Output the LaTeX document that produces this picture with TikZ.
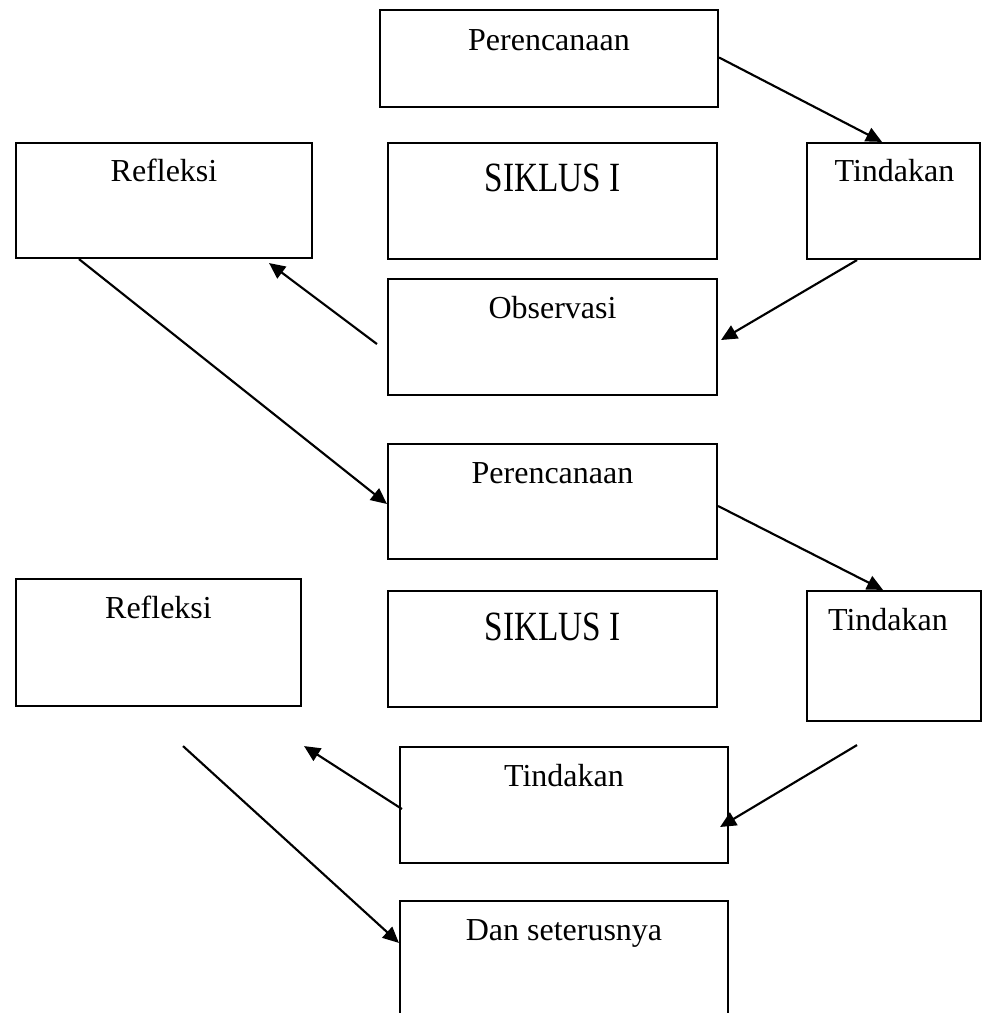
\documentclass[tikz,border=0pt]{standalone}
\usepackage{fontspec}
\setmainfont{Liberation Serif}
\usetikzlibrary{fit,calc,arrows.meta}
\tikzset{
  box/.style={draw, line width=1.6pt, rectangle, inner sep=0pt},
  lbl/.style={anchor=base, inner sep=0pt, font=\fontsize{24}{28}\selectfont},
  arr/.style={line width=1.6pt, -{Triangle[length=12pt,width=11pt]}},
  ln/.style={line width=1.6pt}
}
\begin{document}
\begin{tikzpicture}[x=0.75pt,y=-0.75pt]
\useasboundingbox (0,0) rectangle (982,1013);
\clip (0,0) rectangle (982,1013);
% boxes
\node[box, fit={(380,10) (718,107)}] (p1) {};
\node[box, fit={(16,143) (312,258)}] (r1) {};
\node[box, fit={(388,143) (717,259)}] (s1) {};
\node[box, fit={(807,143) (980,259)}] (t1) {};
\node[box, fit={(388,279) (717,395)}] (o1) {};
\node[box, fit={(388,444) (717,559)}] (p2) {};
\node[box, fit={(16,579) (301,706)}] (r2) {};
\node[box, fit={(388,591) (717,707)}] (s2) {};
\node[box, fit={(807,591) (981,721)}] (t2) {};
\node[box, fit={(400,747) (728,863)}] (t3) {};
\node[box, fit={(400,901) (728,1017)}] (d) {};
% labels
\node[lbl] (p1t) at ($(p1.north)+(0,42)$) {Perencanaan};
\node[lbl] (r1t) at ($(r1.north)+(0,40)$) {Refleksi};
\node[lbl] (s1t) at ($(s1.north)+(0,50)$) {\scalebox{1.04}[1.3]{SIKLUS I}};
\node[lbl] (t1t) at ($(t1.north)+(1,40)$) {Tindakan};
\node[lbl] (o1t) at ($(o1.north)+(0,41)$) {Observasi};
\node[lbl] (p2t) at ($(p2.north)+(0,41)$) {Perencanaan};
\node[lbl] (r2t) at ($(r2.north)+(0,41)$) {Refleksi};
\node[lbl] (s2t) at ($(s2.north)+(0,51)$) {\scalebox{1.04}[1.3]{SIKLUS I}};
\node[lbl] (t2t) at ($(t2.north)+(-6,41)$) {Tindakan};
\node[lbl] (t3t) at ($(t3.north)+(0,41)$) {Tindakan};
\node[lbl] (dt) at ($(d.north)+(0,41)$) {Dan seterusnya};
% connectors
\draw[arr] ($(p1.east)+(0,-1)$) -- ($(t1.north)+(-11.5,0)$);
\draw[arr] ($(t1.south)+(-36.5,0)$) -- ($(o1.east)+(3,3)$);
\draw[arr] ($(o1.west)+(-10,7)$) -- ($(r1.south east)+(-44,4)$);
\draw[arr] ($(r1.south west)+(64,0)$) -- ($(p2.west)+(0,2.5)$);
\draw[arr] ($(p2.east)+(0,4.5)$) -- ($(t2.north)+(-11,0)$);
\coordinate (c6) at ($(t2.south)+(-37,23)$);
\draw[arr] (c6) -- ($(t3.east)+(-9,22)$);
\draw[arr] ($(t3.west)+(3,4)$) -- ($(r2.south east)+(2,39)$);
\coordinate (c8) at ($(r2.south)+(24.5,39)$);
\draw[arr] (c8) -- ($(d.north west)+(0,43)$);
\end{tikzpicture}
\end{document}
